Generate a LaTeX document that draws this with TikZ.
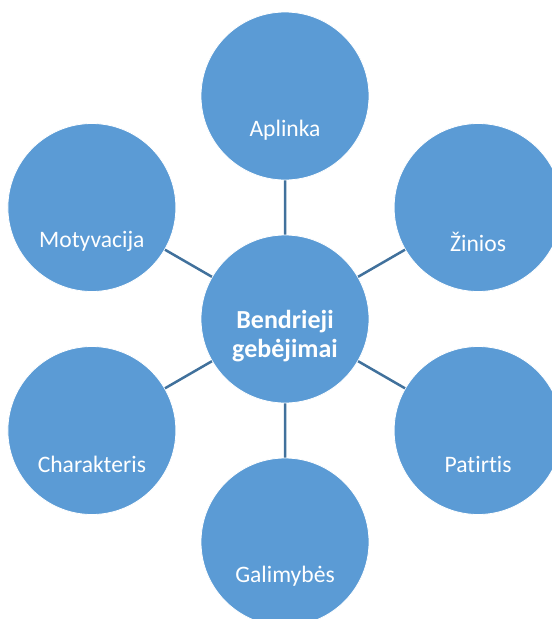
\documentclass[tikz,border=0pt]{standalone}
\usepackage{fontspec}
\setmainfont{Carlito}[Ligatures=NoCommon]
\usetikzlibrary{positioning,calc}
\definecolor{ringblue}{HTML}{5B9BD5}
\definecolor{spokeblue}{HTML}{41719C}

\begin{document}
\begin{tikzpicture}[
    krug/.style={circle, fill=ringblue, draw=white, line width=0.8pt,
        minimum size=168pt, inner sep=0pt},
    vardas/.style={text=white, yshift=-34pt, font=\fontsize{23.6}{28}\selectfont},
    jungtis/.style={draw=spokeblue, line width=2.5pt}]
    \useasboundingbox (0,0) rectangle (552pt,-619pt);
    \node[krug, label={[text=white, align=center, yshift=-17pt,
        font=\bfseries\fontsize{26}{29.5}\selectfont]center:Bendrieji\\gebėjimai}]
        (centras) at (285pt,-319pt) {};
    \node[krug, label={[vardas]center:Aplinka}] (aplinka) at ($(centras)+(90:223pt)$) {};
    \node[krug, label={[vardas]center:Žinios}] (zinios) at ($(centras)+(30:223pt)$) {};
    \node[krug, label={[vardas]center:Patirtis}] (patirtis) at ($(centras)+(-30:223pt)$) {};
    \node[krug, label={[vardas]center:Galimybės}] (galimybes) at ($(centras)+(-90:223pt)$) {};
    \node[krug, label={[vardas]center:Charakteris}] (charakteris) at ($(centras)+(-150:223pt)$) {};
    \node[krug, label={[vardas]center:Motyvacija}] (motyvacija) at ($(centras)+(150:223pt)$) {};
    \draw[jungtis]
        (centras) -- (aplinka)
        (centras) -- (zinios)
        (centras) -- (patirtis)
        (centras) -- (galimybes)
        (centras) -- (charakteris)
        (centras) -- (motyvacija);
\end{tikzpicture}
\end{document}
